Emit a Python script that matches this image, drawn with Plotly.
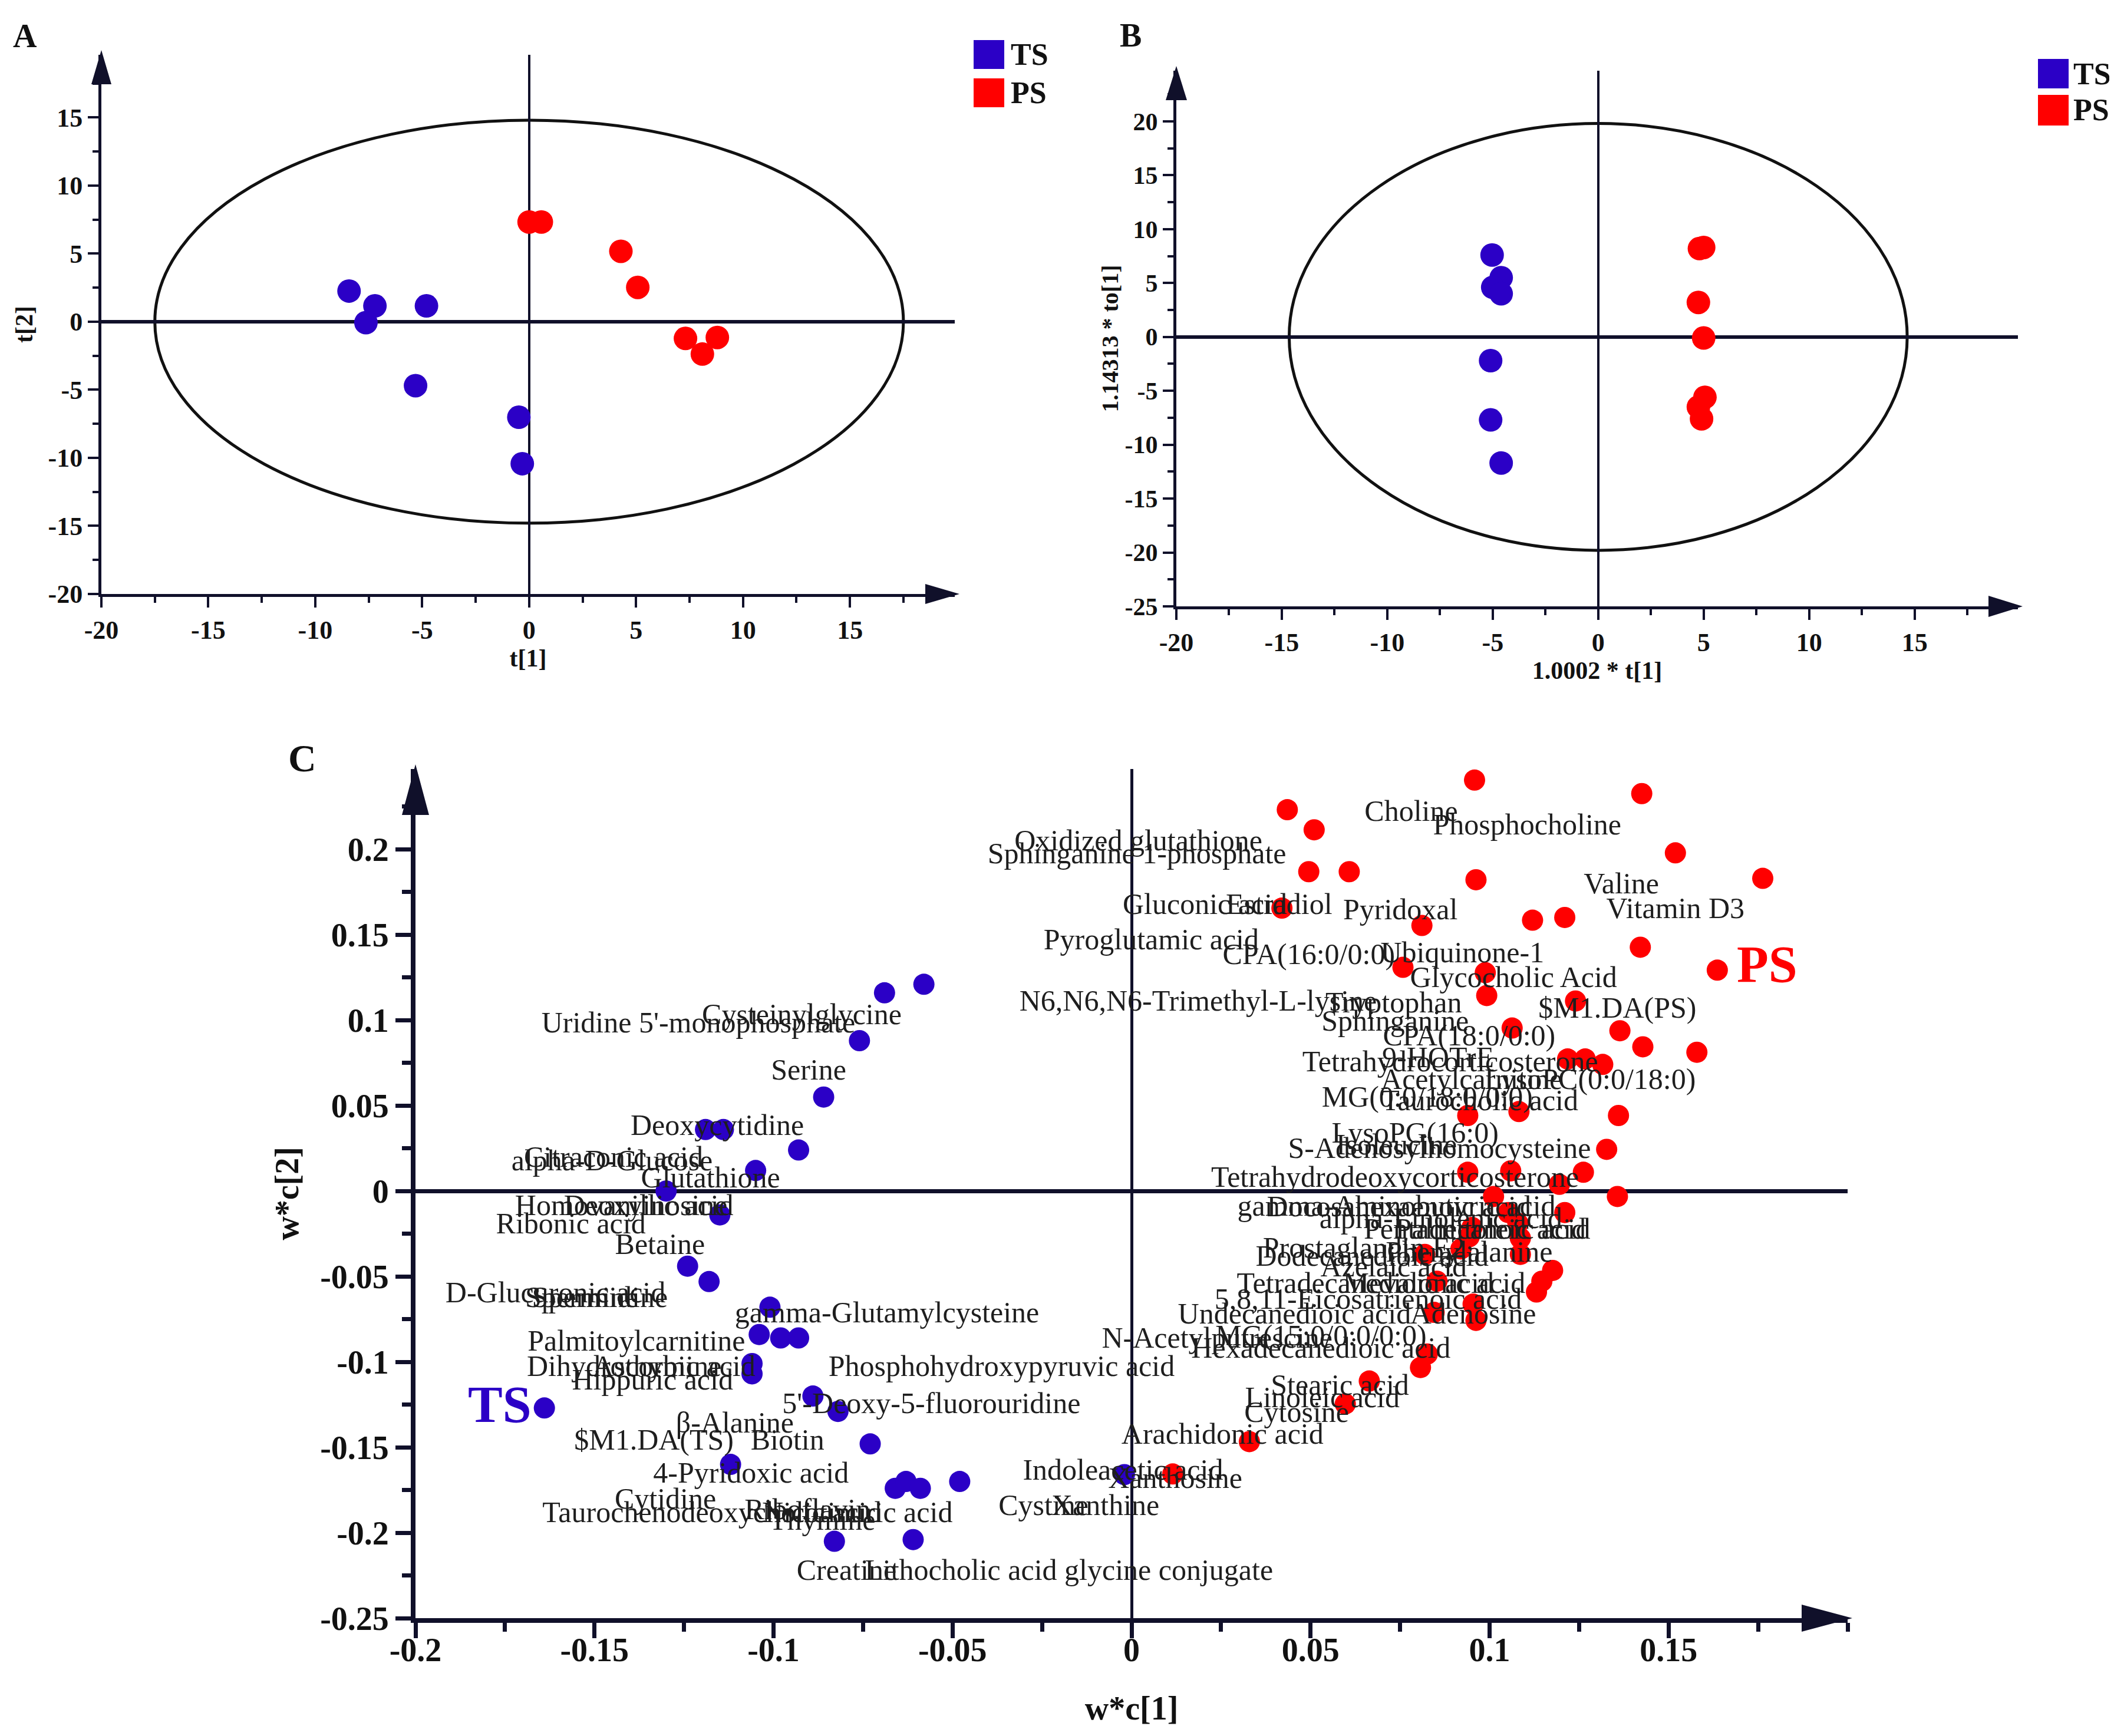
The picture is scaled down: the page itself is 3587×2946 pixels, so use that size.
import plotly.graph_objects as go

W, H = 3587, 2946
FONT = "Liberation Serif"
TS_COLOR = "#2B00C6"
PS_COLOR = "#FF0000"
INK = "#10102A"
TEXT = "#1E1E1E"

# ---------------- A: PCA scores t[1] / t[2]
A_TS_T1 = [-8.42, -7.21, -7.63, -4.80, -5.31, -0.48, -0.32]
A_TS_T2 = [2.25, 1.16, -0.07, 1.16, -4.70, -7.02, -10.43]
A_PS_T1 = [0.00, 0.57, 4.29, 5.08, 7.31, 8.10, 8.80]
A_PS_T2 = [7.32, 7.32, 5.17, 2.52, -1.23, -2.38, -1.16]
A_ELLIPSE = (17.5, 14.8)          # Hotelling T2 semi-axes
A_TICKS_X = [-20, -15, -10, -5, 0, 5, 10, 15]
A_TICKS_Y = [-20, -15, -10, -5, 0, 5, 10, 15]

# ---------------- B: OPLS-DA scores
B_TS_T = [-5.03, -4.60, -5.00, -4.60, -5.10, -5.10, -4.60]
B_TS_TO = [7.6, 5.5, 4.6, 4.0, -2.2, -7.7, -11.7]
B_PS_T = [4.80, 5.00, 4.75, 5.00, 5.06, 4.75, 4.90]
B_PS_TO = [8.2, 8.3, 3.2, -0.1, -5.6, -6.5, -7.6]
B_ELLIPSE = (14.65, 19.8)
B_TICKS_X = [-20, -15, -10, -5, 0, 5, 10, 15]
B_TICKS_Y = [-25, -20, -15, -10, -5, 0, 5, 10, 15, 20]

# ---------------- C: loadings w*c[1] / w*c[2]
C_TS_X = [-0.058, -0.069, -0.076, -0.086, -0.119, -0.114, -0.093, -0.105, -0.130, -0.115,
          -0.124, -0.118, -0.101, -0.104, -0.098, -0.093, -0.106, -0.106, -0.164, -0.089,
          -0.082, -0.073, -0.112, -0.066, -0.063, -0.059, -0.048, -0.083, -0.061, -0.002]
C_TS_Y = [0.121, 0.116, 0.088, 0.055, 0.036, 0.036, 0.024, 0.012, 0.000, -0.014,
          -0.044, -0.053, -0.068, -0.084, -0.086, -0.086, -0.101, -0.107, -0.127, -0.120,
          -0.129, -0.148, -0.160, -0.174, -0.170, -0.174, -0.170, -0.205, -0.204, -0.166]
C_PS_X = [0.0435, 0.0510, 0.0958, 0.1425, 0.0495, 0.0608, 0.1519, 0.0962, 0.1763, 0.0420,
          0.0811, 0.1120, 0.1210, 0.1421, 0.1636, 0.0758, 0.0988, 0.0992, 0.1240, 0.1063,
          0.1364, 0.1428, 0.1579, 0.1218, 0.1267, 0.1316, 0.0939, 0.1082, 0.1360, 0.1327,
          0.0939, 0.1059, 0.1262, 0.1195, 0.1357, 0.1011, 0.1052, 0.1210, 0.1079, 0.0951,
          0.0943, 0.1086, 0.0920, 0.1086, 0.0819, 0.1176, 0.1146, 0.0853, 0.1131, 0.0954,
          0.0845, 0.0962, 0.0826, 0.0807, 0.0664, 0.0597, 0.0329, 0.0115]
C_PS_Y = [0.2232, 0.2114, 0.2405, 0.2326, 0.1869, 0.1869, 0.1979, 0.1822, 0.1830, 0.1656,
          0.1554, 0.1585, 0.1601, 0.1427, 0.1293, 0.1309, 0.1278, 0.1144, 0.1112, 0.0954,
          0.0938, 0.0844, 0.0812, 0.0773, 0.0773, 0.0741, 0.0442, 0.0465, 0.0442, 0.0244,
          0.0110, 0.0118, 0.0110, 0.0039, -0.0032, -0.0032, -0.0126, -0.0126, -0.0189, -0.0213,
          -0.0268, -0.0276, -0.0339, -0.0371, -0.0371, -0.0465, -0.0528, -0.0528, -0.0591, -0.0662,
          -0.0710, -0.0757, -0.0954, -0.1033, -0.1112, -0.1246, -0.1467, -0.1656]

C_LABELS = [
    "Oxidized glutathione", "Sphinganine 1-phosphate", "Choline", "Phosphocholine",
    "Gluconic acid", "Estradiol", "Pyridoxal", "Valine", "Vitamin D3", "Pyroglutamic acid",
    "CPA(16:0/0:0)", "Ubiquinone-1", "Glycocholic Acid", "N6,N6,N6-Trimethyl-L-lysine",
    "Tryptophan", "Sphinganine", "$M1.DA(PS)", "CPA(18:0/0:0)", "Tetrahydrocorticosterone",
    "9-HOTrE", "Acetylcarnitine", "LysoPC(0:0/18:0)", "MG(0:0/18:0/0:0)", "Taurocholic acid",
    "LysoPG(16:0)", "S-Adenosylhomocysteine", "Isoleucine", "Tetrahydrodeoxycorticosterone",
    "gamma-Aminobutyric acid", "Docosahexaenoic acid", "alpha-Linolenic acid",
    "Pentadecanoic acid", "Palmitoleic acid", "Prostaglandin E2", "Dodecanedioic acid",
    "Phenylalanine", "Azelaic acid", "Tetradecanedioic acid", "Mevalonic acid",
    "5,8,11-Eicosatrienoic acid", "Undecanedioic acid", "Adenosine", "N-Acetylputrescine",
    "MG(15:0/0:0/0:0)", "Hexadecanedioic acid", "Stearic acid", "Linoleic acid", "Cytosine",
    "Arachidonic acid", "Indoleacetic acid", "Xanthosine", "Cystine", "Xanthine",
    "Uridine 5'-monophosphate", "Cysteinylglycine", "Serine", "Deoxycytidine",
    "Citraconic acid", "alpha-D-Glucose", "Glutathione", "Homovanillic acid", "Deoxyinosine",
    "Ribonic acid", "Betaine", "D-Glucuronic acid", "Spermidine", "Spermine",
    "gamma-Glutamylcysteine", "Palmitoylcarnitine", "Dihydrothymine", "Ascorbic acid",
    "Hippuric acid", "Phosphohydroxypyruvic acid", "5'-Deoxy-5-fluorouridine", "β-Alanine",
    "$M1.DA(TS)", "Biotin", "4-Pyridoxic acid", "Cytidine", "Taurochenodeoxycholic acid",
    "Riboflavin", "Nicotinuric acid", "Thymine", "Creatine",
    "Lithocholic acid glycine conjugate",
]
C_LABEL_X = [
    0.0019, 0.0015, 0.0781, 0.1105, 0.0205, 0.0412, 0.0751, 0.1368, 0.1519, 0.0055,
    0.0495, 0.0924, 0.1067, 0.0186, 0.0732, 0.0736, 0.1357, 0.0943, 0.0890, 0.0856,
    0.0950, 0.1281, 0.0826, 0.0973, 0.0792, 0.0860, 0.0740, 0.0736, 0.0740, 0.0747,
    0.0864, 0.0965, 0.1003, 0.0649, 0.0672, 0.0943, 0.0732, 0.0653, 0.0845, 0.0661,
    0.0455, 0.0954, 0.0239, 0.0529, 0.0529, 0.0582, 0.0533, 0.0461, 0.0254, -0.0024,
    0.0122, -0.0246, -0.0073,
    -0.1210, -0.0921, -0.0902, -0.1157, -0.1447, -0.1451, -0.1176, -0.1417, -0.1357,
    -0.1566, -0.1317, -0.1609, -0.1485, -0.1536, -0.0683, -0.1383, -0.1417, -0.1278,
    -0.1338, -0.0363, -0.0559, -0.1108, -0.1334, -0.0961, -0.1063, -0.1302, -0.1172,
    -0.0905, -0.0766, -0.0864, -0.0796, -0.0175,
]
C_LABEL_Y = [
    0.2038, 0.1961, 0.2208, 0.2131, 0.1664, 0.1664, 0.1632, 0.1786, 0.1640, 0.1459,
    0.1372, 0.1383, 0.1238, 0.1099, 0.1088, 0.0982, 0.1057, 0.0895, 0.0745, 0.0769,
    0.0639, 0.0639, 0.0536, 0.0517, 0.0326, 0.0237, 0.0256, 0.0068, -0.0101, -0.0103,
    -0.0174, -0.0237, -0.0237, -0.0345, -0.0394, -0.0371, -0.0457, -0.0552, -0.0552, -0.0647,
    -0.0733, -0.0733, -0.0875, -0.0860, -0.0931, -0.1148, -0.1222, -0.1309, -0.1435, -0.1648,
    -0.1696, -0.1853, -0.1853,
    0.0970, 0.1021, 0.0696, 0.0371, 0.0185, 0.0166, 0.0063, -0.0099, -0.0099,
    -0.0205, -0.0327, -0.0607, -0.0635, -0.0635, -0.0724, -0.0891, -0.1041, -0.1041,
    -0.1120, -0.1041, -0.1258, -0.1372, -0.1472, -0.1472, -0.1664, -0.1814, -0.1893,
    -0.1877, -0.1893, -0.1940, -0.2232, -0.2232,
]
C_GROUP_TAGS = ["TS", "PS"]
C_GROUP_TAG_X = [-0.1765, 0.1775]
C_GROUP_TAG_Y = [-0.1274, 0.1300]
C_TICKS_X = [-0.2, -0.15, -0.1, -0.05, 0, 0.05, 0.1, 0.15]
C_TICKS_Y = [-0.25, -0.2, -0.15, -0.1, -0.05, 0, 0.05, 0.1, 0.15, 0.2]

# panel boxes in page pixels: left, right, top, bottom
A_BOX = (164, 1612, 85, 1000)
B_BOX = (1988, 3416, 112, 1021)
C_BOX = (697, 3127, 1297, 2738)


def px(x):
    return x / W


def py(y):
    return 1 - y / H


def axis(domain, rng, ticks, minor_step, title, anchor, tick_size, title_size,
         line_w, zero_w, tick_len, standoff, label_shift=0):
    return dict(
        domain=domain, range=rng, anchor=anchor, automargin=False,
        showline=True, linecolor=INK, linewidth=line_w, showgrid=False,
        zeroline=True, zerolinecolor=INK, zerolinewidth=zero_w,
        tickmode="array", tickvals=ticks, ticktext=[f"{v:g}" for v in ticks],
        ticks="outside", ticklen=tick_len, tickwidth=line_w - 1, tickcolor=INK,
        ticklabelstandoff=label_shift,
        minor=dict(ticks="outside", tickmode="linear", tick0=0, dtick=minor_step,
                   ticklen=int(tick_len * 0.6), tickwidth=line_w - 1, tickcolor=INK),
        tickfont=dict(family=FONT, size=tick_size, color="#111111", weight="bold"),
        title=dict(text=title, standoff=standoff,
                   font=dict(family=FONT, size=title_size, color="#111111", weight="bold")),
    )


def arrow_head(tip_x, tip_y, direction, length, width):
    if direction == "right":
        pts = [(tip_x, tip_y), (tip_x - length, tip_y - width / 2), (tip_x - length, tip_y + width / 2)]
    else:
        pts = [(tip_x, tip_y), (tip_x - width / 2, tip_y + length), (tip_x + width / 2, tip_y + length)]
    path = "M " + " L ".join(f"{px(x):.5f},{py(y):.5f}" for x, y in pts) + " Z"
    return dict(type="path", xref="paper", yref="paper", path=path,
                fillcolor=INK, line=dict(width=0), layer="above")


fig = go.Figure()

for xs, ys, color, xa, ya, size in [
    (A_TS_T1, A_TS_T2, TS_COLOR, "x", "y", 40),
    (A_PS_T1, A_PS_T2, PS_COLOR, "x", "y", 40),
    (B_TS_T, B_TS_TO, TS_COLOR, "x2", "y2", 40),
    (B_PS_T, B_PS_TO, PS_COLOR, "x2", "y2", 40),
    (C_TS_X, C_TS_Y, TS_COLOR, "x3", "y3", 36),
    (C_PS_X, C_PS_Y, PS_COLOR, "x3", "y3", 36),
]:
    fig.add_trace(go.Scatter(x=xs, y=ys, mode="markers", xaxis=xa, yaxis=ya,
                             marker=dict(color=color, size=size, line=dict(width=0)),
                             hoverinfo="skip"))

fig.add_trace(go.Scatter(x=C_LABEL_X, y=C_LABEL_Y, text=C_LABELS, mode="text",
                         xaxis="x3", yaxis="y3", textposition="middle center",
                         textfont=dict(family=FONT, size=50, color=TEXT), hoverinfo="skip"))
fig.add_trace(go.Scatter(x=C_GROUP_TAG_X, y=C_GROUP_TAG_Y, text=C_GROUP_TAGS, mode="text",
                         xaxis="x3", yaxis="y3", textposition="middle center",
                         textfont=dict(family=FONT, size=88, color=[TS_COLOR, PS_COLOR], weight="bold"),
                         hoverinfo="skip"))

shapes = []
for (a, b), xr, yr in [(A_ELLIPSE, "x", "y"), (B_ELLIPSE, "x2", "y2")]:
    shapes.append(dict(type="circle", xref=xr, yref=yr, x0=-a, x1=a, y0=-b, y1=b,
                       line=dict(color="#111111", width=5), layer="below"))

for box, length, width in [(A_BOX, 58, 34), (B_BOX, 58, 36), (C_BOX, 86, 46)]:
    left, right, top, bottom = box
    shapes.append(arrow_head(right + 8, bottom, "right", length, width))
    shapes.append(arrow_head(left, top - 8, "up", length, width))

annotations = []
# legends of panels A and B
for sq_left, txt_left, rows in [
    (1644, 1705, [(60, 109, "TS", TS_COLOR), (125, 174, "PS", PS_COLOR)]),
    (3450, 3508, [(92, 142, "TS", TS_COLOR), (153, 205, "PS", PS_COLOR)]),
]:
    for top, bottom, name, color in rows:
        shapes.append(dict(type="rect", xref="paper", yref="paper",
                           x0=px(sq_left), x1=px(sq_left + 52), y0=py(bottom), y1=py(top),
                           fillcolor=color, line=dict(width=0)))
        annotations.append(dict(x=px(txt_left), y=py((top + bottom) / 2), xref="paper", yref="paper",
                                text=name, showarrow=False, xanchor="left", yanchor="middle",
                                font=dict(family=FONT, size=52, color="#111111", weight="bold")))

for letter, lx, ly, size in [("A", 34, 53, 56), ("B", 1910, 52, 56), ("C", 505, 1278, 66)]:
    annotations.append(dict(x=px(lx), y=py(ly), xref="paper", yref="paper", text=letter,
                            showarrow=False, xanchor="center", yanchor="middle",
                            font=dict(family=FONT, size=size, color="#111111", weight="bold")))


def xdom(box):
    return [px(box[0]), px(box[1])]


def ydom(box):
    return [py(box[3]), py(box[2])]


fig.update_layout(
    width=W, height=H, margin=dict(l=0, r=0, t=0, b=0, autoexpand=False),
    paper_bgcolor="white", plot_bgcolor="white", showlegend=False,
    xaxis=axis(xdom(A_BOX), [-20, 19.9], A_TICKS_X, 2.5, "t[1]", "y", 44, 42, 5, 4, 18, 0),
    yaxis=axis(ydom(A_BOX), [-20, 19.6], A_TICKS_Y, 2.5, "t[2]", "x", 44, 42, 5, 6, 18, 14),
    xaxis2=axis(xdom(B_BOX), [-20, 19.9], B_TICKS_X, 2.5, "1.0002 * t[1]", "y2", 44, 42, 5, 4, 18, 0),
    yaxis2=axis(ydom(B_BOX), [-25, 24.7], B_TICKS_Y, 2.5, "1.14313 * to[1]", "x2", 42, 40, 5, 6, 18, 0),
    xaxis3=axis(xdom(C_BOX), [-0.2, 0.2], C_TICKS_X, 0.025, "w*c[1]", "y3", 56, 56, 8, 5, 26, 52, -28),
    yaxis3=axis(ydom(C_BOX), [-0.25, 0.247], C_TICKS_Y, 0.025, "w*c[2]", "x3", 56, 56, 8, 7, 26, 22),
    shapes=shapes,
    annotations=annotations,
)

fig.write_html("out.html")
